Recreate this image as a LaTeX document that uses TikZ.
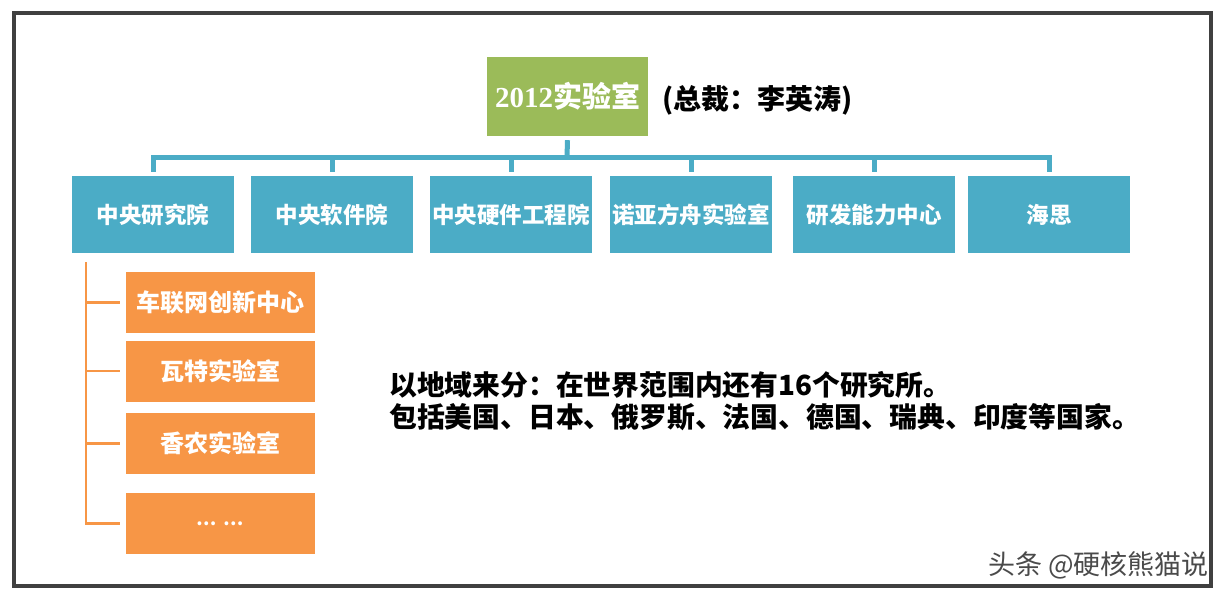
\documentclass[tikz,border=0pt]{standalone}
\usepackage{fontspec}
\newfontfamily\cjk{Noto Sans CJK SC}
\newfontfamily\numf{Liberation Serif}
\definecolor{rootgreen}{HTML}{9BBB59}
\definecolor{boxblue}{HTML}{4BACC6}
\definecolor{boxorange}{HTML}{F79646}
\definecolor{framegray}{HTML}{404040}
\definecolor{markgray}{HTML}{4A4A4A}
\tikzset{
  rootbox/.style={rectangle, fill=rootgreen, minimum width=161pt, minimum height=79pt, inner sep=0pt,
    text=white, font=\cjk\bfseries\fontsize{29}{32}\selectfont},
  bluebox/.style={rectangle, fill=boxblue, minimum width=162pt, minimum height=77pt, inner sep=0pt,
    text=white, font=\cjk\bfseries\fontsize{22.5}{26}\selectfont},
  orangebox/.style={rectangle, fill=boxorange, minimum width=189pt, minimum height=61pt, inner sep=0pt,
    text=white, font=\cjk\bfseries\fontsize{24}{28}\selectfont},
  bline/.style={draw=boxblue, line width=5pt},
  oline/.style={draw=boxorange, line width=2.5pt},
  bodytext/.style={font=\cjk\bfseries\fontsize{27.8}{32}\selectfont, text=black, align=left, inner sep=0pt}
}
\begin{document}
\begin{tikzpicture}[x=1pt,y=-1pt]
\useasboundingbox[fill=white] (0,0) rectangle (1228,600);
\draw[framegray, line width=4.5pt] (14,13) rectangle (1211,586);

\node[rootbox] (root) at (567.5,96.5) {{\numf\bfseries 2012}实验室};
\node[font=\cjk\bfseries\fontsize{28}{32}\selectfont, text=black, anchor=west, inner sep=0pt] (cap) at (662,100) {(总裁：李英涛)};

\node[bluebox] (b1) at (153,214.5) {中央研究院};
\node[bluebox] (b2) at (332,214.5) {中央软件院};
\node[bluebox] (b3) at (511,214.5) {中央硬件工程院};
\node[bluebox] (b4) at (691,214.5) {诺亚方舟实验室};
\node[bluebox] (b5) at (874,214.5) {研发能力中心};
\node[bluebox] (b6) at (1049,214.5) {海思};

\coordinate (barc) at (567,157);
\draw[bline] ([yshift=-4pt]root.south) -- (barc);
\draw[bline] ([yshift=4pt]b1.north) -- (b1.north |- barc) -- (b6.north |- barc) -- ([yshift=4pt]b6.north);
\foreach \n in {2,...,5} \draw[bline] (b\n.north |- barc) -- ([yshift=4pt]b\n.north);

\node[orangebox] (o1) at (220.5,302.5) {车联网创新中心};
\node[orangebox] (o2) at (220.5,371) {瓦特实验室};
\node[orangebox] (o3) at (220.5,443.5) {香农实验室};
\node[orangebox, font=\cjk\bfseries\fontsize{18}{20}\selectfont] (o4) at (220.5,523.5) {…\hspace{7pt}…};

\coordinate (otop) at (86,262);
\draw[oline] (otop) |- ([xshift=-6pt]o4.west);
\foreach \n in {1,2,3} \draw[oline] (otop |- o\n.west) -- ([xshift=-6pt]o\n.west);

\node[bodytext, anchor=west] (txt) at (389,401) {以地域来分：在世界范围内还有16个研究所。\\包括美国、日本、俄罗斯、法国、德国、瑞典、印度等国家。};

\node[font=\cjk\fontsize{27}{30}\selectfont, text=markgray, anchor=east, inner sep=0pt] (mark) at (1209,565) {头条 @硬核熊猫说};
\end{tikzpicture}
\end{document}
